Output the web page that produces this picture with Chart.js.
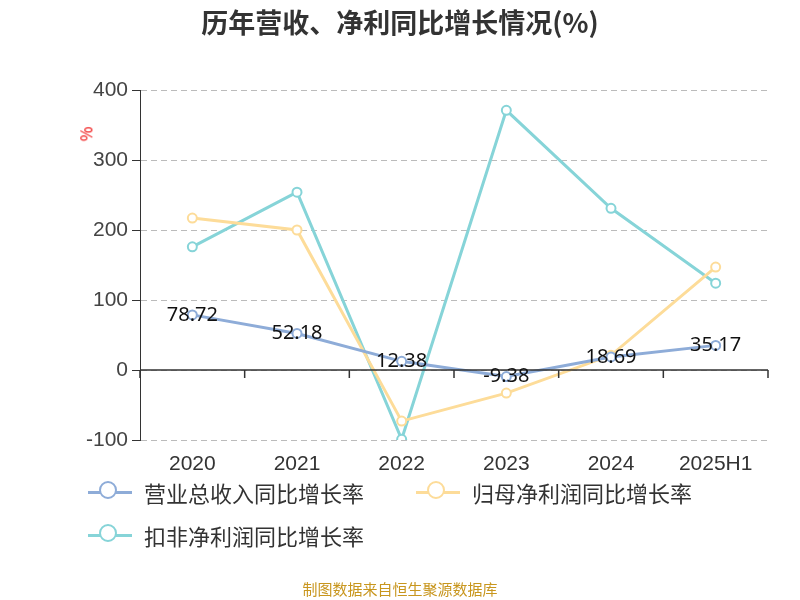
<!DOCTYPE html><html><head><meta charset="utf-8">
<script src="https://cdn.jsdelivr.net/npm/chart.js@4"></script>
<style>body{margin:0;width:800px;height:600px;position:relative;font-family:"Noto Sans CJK SC","Noto Sans",sans-serif;background:#fff}
#c{position:absolute;left:0;top:0}
.t{position:absolute;white-space:nowrap}
.lg{position:absolute;font-size:22px;color:#333;display:flex;align-items:center;white-space:nowrap}
.lg span.m{display:inline-block;width:44px;height:3px;position:relative;margin-right:12px}
.lg span.m i{position:absolute;left:11px;top:-10px;width:18px;height:18px;border-radius:50%;border:2.5px solid;background:#fff;box-sizing:border-box}
</style></head><body>
<canvas id="c" width="800" height="600"></canvas>
<div class="t" style="left:0;width:800px;text-align:center;top:2px;font-size:27px;font-weight:bold;color:#333">历年营收、净利同比增长情况(%)</div>
<div class="t" style="left:78px;top:122px;color:#e00;font-size:16px;transform:rotate(-90deg)">%</div>
<div class="lg" style="left:88px;top:476px"><span class="m" style="background:#8eacd8"><i style="border-color:#8eacd8"></i></span>营业总收入同比增长率</div>
<div class="lg" style="left:416px;top:476px"><span class="m" style="background:#fddc99"><i style="border-color:#fddc99"></i></span>归母净利润同比增长率</div>
<div class="lg" style="left:88px;top:519px"><span class="m" style="background:#86d4d8"><i style="border-color:#86d4d8"></i></span>扣非净利润同比增长率</div>
<div class="t" style="left:0;width:800px;text-align:center;top:578px;font-size:15px;color:#c8961e">制图数据来自恒生聚源数据库</div>
<script>
const categories=["2020","2021","2022","2023","2024","2025H1"];
const revenue=[78.72,52.18,12.38,-9.38,18.69,35.17];
const netProfit=[217,200,-73,-33,21,147];
const deducted=[176,254,-99,371,231,124];
const yTicks=[400,300,200,100,0,-100];
const ds=(d,c)=>({data:d,borderColor:c,backgroundColor:'#fff',borderWidth:3,pointRadius:4.5,pointBorderWidth:2,pointBackgroundColor:'#fff',tension:0});
const extra={id:'extra',afterDatasetsDraw(ch){const ctx=ch.ctx,x=ch.scales.x,y=ch.scales.y,a=ch.chartArea;const y0=y.getPixelForValue(0);
ctx.save();ctx.strokeStyle='#333';ctx.lineWidth=1.5;ctx.beginPath();ctx.moveTo(a.left,y0);ctx.lineTo(a.right,y0);
const w=(a.right-a.left)/categories.length;for(let i=0;i<=categories.length;i++){const px=a.left+w*i;ctx.moveTo(px,y0);ctx.lineTo(px,y0+8);}ctx.stroke();
ctx.fillStyle='#111';ctx.font='20px "Noto Sans",sans-serif';ctx.textAlign='center';ctx.textBaseline='middle';
ch.getDatasetMeta(0).data.forEach((p,i)=>ctx.fillText(revenue[i].toFixed(2),p.x,p.y));ctx.restore();}};
new Chart(document.getElementById('c'),{type:'line',data:{labels:categories,datasets:[ds(revenue,'#8eacd8'),ds(netProfit,'#fddc99'),ds(deducted,'#86d4d8')]},
options:{responsive:false,animation:false,layout:{padding:{top:90,bottom:115,right:32,left:0}},
plugins:{legend:{display:false},title:{display:false},tooltip:{enabled:false}},
scales:{x:{offset:true,grid:{display:false,drawTicks:false,offset:true},border:{display:false},ticks:{color:'#333',font:{size:21},padding:12},afterFit(s){s.height=45;}},
y:{min:-100,max:400,afterBuildTicks(s){s.ticks=yTicks.map(v=>({value:v}));},afterFit(s){s.width=140;},
grid:{color:'#bbb',tickColor:'#333',tickLength:8,drawTicks:true},border:{display:true,color:'#333',dash:[6,4]},
ticks:{color:'#444',font:{size:21},padding:4}}}},plugins:[extra]});
</script></body></html>
